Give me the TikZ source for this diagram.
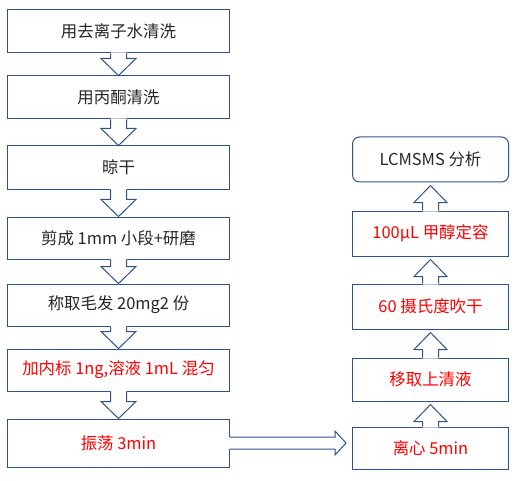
\documentclass[tikz,border=0pt]{standalone}
\usepackage{fontspec}
\setmainfont{Noto Sans CJK SC}
\usetikzlibrary{calc}
\definecolor{boxblue}{HTML}{2F528F}
\definecolor{txtgray}{HTML}{262626}
\pgfkeys{tikz/stepbox/.style={draw=boxblue,line width=1bp,fill=white,inner sep=0pt,minimum height=43bp,font=\fontsize{16.5}{18}\selectfont,text=txtgray}}
\pgfkeys{tikz/leftbox/.style={stepbox,minimum width=221bp}}
\pgfkeys{tikz/rightbox/.style={stepbox,minimum width=156bp}}
\pgfkeys{tikz/hot/.style={text=red}}
\pgfkeys{tikz/hollow/.style={draw=boxblue,line width=1bp,line join=miter}}
% down arrow between two left boxes
\newcommand*\hollowdown[2]{%
  \fill[white] ($(#1.south)+(-8,-1)$) -- ($(#2.north)+(-8,-17)$) -- ($(#2.north)+(-17.5,-17)$) -- (#2.north)
    -- ($(#2.north)+(17.5,-17)$) -- ($(#2.north)+(8,-17)$) -- ($(#1.south)+(8,-1)$) -- cycle;
  \draw[hollow] ($(#1.south)+(-8,0)$) -- ($(#2.north)+(-8,-17)$) -- ($(#2.north)+(-17.5,-17)$) -- (#2.north)
    -- ($(#2.north)+(17.5,-17)$) -- ($(#2.north)+(8,-17)$) -- ($(#1.south)+(8,0)$);
}
% up arrow between two right boxes
\newcommand*\hollowup[2]{%
  \fill[white] ($(#1.north)+(-8,1)$) -- ($(#2.south)+(-8,20)$) -- ($(#2.south)+(-16.5,20)$) -- ($(#2.south)+(0,3)$)
    -- ($(#2.south)+(16.5,20)$) -- ($(#2.south)+(8,20)$) -- ($(#1.north)+(8,1)$) -- cycle;
  \draw[hollow] ($(#1.north)+(-8,0)$) -- ($(#2.south)+(-8,20)$) -- ($(#2.south)+(-16.5,20)$) -- ($(#2.south)+(0,3)$)
    -- ($(#2.south)+(16.5,20)$) -- ($(#2.south)+(8,20)$) -- ($(#1.north)+(8,0)$);
}
% right arrow from one column to the other
\newcommand*\hollowright[2]{%
  \coordinate (tip) at ($(#1.east -| #2.west)+(-6,0)$);
  \fill[white] ($(#1.east)+(-1,-6)$) -- ($(tip)+(-11,-6)$) -- ($(tip)+(-11,-12)$) -- (tip)
    -- ($(tip)+(-11,12)$) -- ($(tip)+(-11,6)$) -- ($(#1.east)+(-1,6)$) -- cycle;
  \draw[hollow] ($(#1.east)+(0,-6)$) -- ($(tip)+(-11,-6)$) -- ($(tip)+(-11,-12)$) -- (tip)
    -- ($(tip)+(-11,12)$) -- ($(tip)+(-11,6)$) -- ($(#1.east)+(0,6)$);
}

\begin{document}
\begin{tikzpicture}[x=1bp,y=-1bp]
\useasboundingbox (0,0) rectangle (519,481);

% left column
\node[leftbox] (l1) at (118.5,31.5) {用去离子水清洗};
\node[leftbox] (l2) at (118.5,97.5) {用丙酮清洗};
\node[leftbox] (l3) at (118.5,167.5) {晾干};
\node[leftbox,minimum height=42bp] (l4) at (118.5,238) {剪成 1mm 小段+研磨};
\node[leftbox,minimum height=42bp] (l5) at (118.5,305) {称取毛发 20mg2 份};
\node[leftbox,minimum height=42bp,hot] (l6) at (118.5,370) {加内标 1ng,溶液 1mL 混匀};
\node[leftbox,minimum height=48bp,hot] (l7) at (118.5,443) {振荡 3min};

% right column
\node[rightbox,minimum height=45bp,rounded corners=7bp] (r1) at (430.5,159.5) {LCMSMS 分析};
\node[rightbox,minimum height=45bp,hot] (r2) at (430.5,233.5) {100μL 甲醇定容};
\node[rightbox,minimum height=45bp,hot] (r3) at (430.5,306.5) {60 摄氏度吹干};
\node[rightbox,hot] (r4) at (430.5,379.5) {移取上清液};
\node[rightbox,minimum height=42bp,hot] (r5) at (430.5,448) {离心 5min};

% arrows
\hollowdown{l1}{l2}
\hollowdown{l2}{l3}
\hollowdown{l3}{l4}
\hollowdown{l4}{l5}
\hollowdown{l5}{l6}
\hollowdown{l6}{l7}
\hollowright{l7}{r5}
\hollowup{r5}{r4}
\hollowup{r4}{r3}
\hollowup{r3}{r2}
\hollowup{r2}{r1}

\end{tikzpicture}
\end{document}
